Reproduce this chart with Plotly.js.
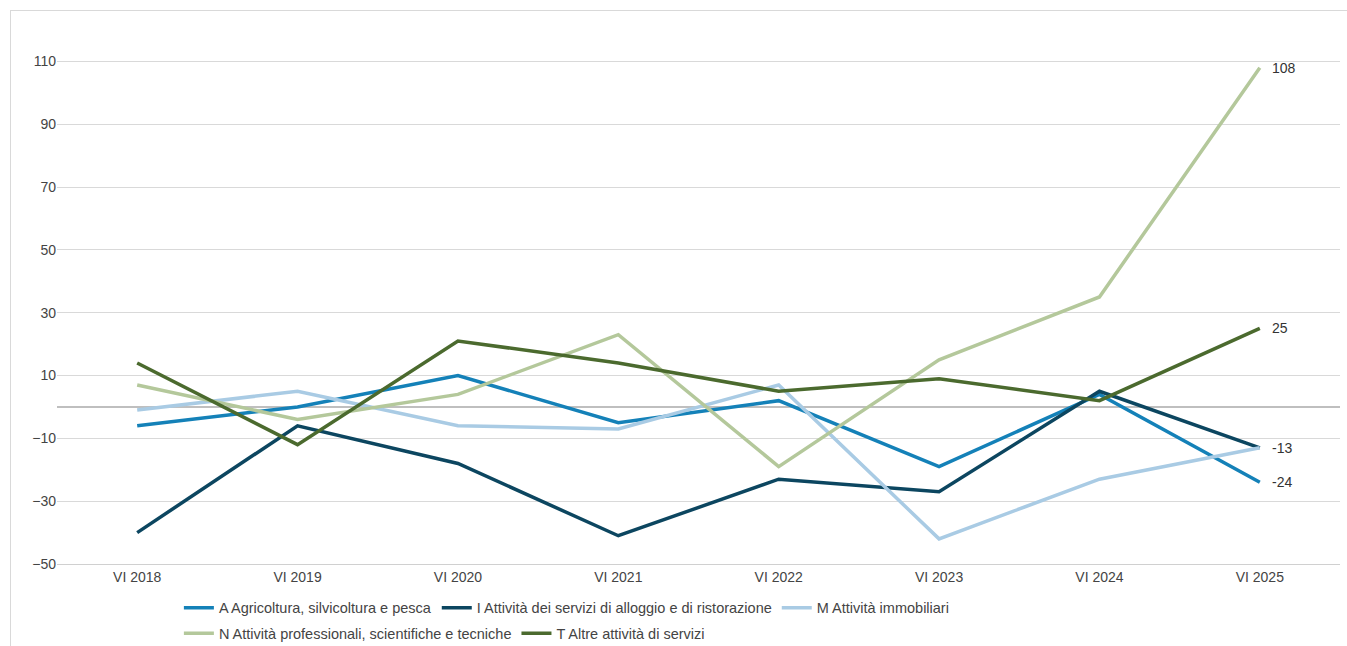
<!DOCTYPE html>
<html><head><script src="https://cdn.plot.ly/plotly-3.0.1.min.js"></script>
<style>body{margin:0}#c{width:1347px;height:646px;}#b{position:absolute;left:10px;top:10px;width:1345px;height:650px;border:1px solid #d9d9d9;pointer-events:none}</style></head>
<body><div id="c"></div><div id="b"></div><script>
const categories=["VI 2018","VI 2019","VI 2020","VI 2021","VI 2022","VI 2023","VI 2024","VI 2025"];
const seriesA=[-6,0,10,-5,2,-19,4,-24];
const seriesI=[-40,-6,-18,-41,-23,-27,5,-13];
const seriesM=[-1,5,-6,-7,7,-42,-23,-13];
const seriesN=[7,-4,4,23,-19,15,35,108];
const seriesT=[14,-12,21,14,5,9,2,25];
const names=["A Agricoltura, silvicoltura e pesca","I Attività dei servizi di alloggio e di ristorazione","M Attività immobiliari","N Attività professionali, scientifiche e tecniche","T Altre attività di servizi"];
const colors=["#1481b8","#0c4660","#a9cbe4","#b4c89b","#4b6a2e"];
const legendOf=["legend","legend","legend","legend2","legend2"];
const all=[seriesA,seriesI,seriesM,seriesN,seriesT];
const traces=all.map((s,i)=>({x:categories,y:s,name:names[i],legend:legendOf[i],type:"scatter",mode:"lines",line:{color:colors[i],width:3.5}}));
const ann=[seriesN,seriesT,seriesM,seriesA].map(s=>({x:categories[7],y:s[7],text:String(s[7]),showarrow:false,xanchor:"left",xshift:10,font:{size:14,color:"#333"}}));
const leg={orientation:"h",xanchor:"left",yanchor:"top",font:{size:14.5,color:"#444"},itemwidth:30,tracegroupgap:0};
Plotly.newPlot("c",traces,{
 width:1347,height:646,margin:{l:57,r:7,t:30,b:82,autoexpand:false},
 paper_bgcolor:"#fff",plot_bgcolor:"#fff",
 font:{family:"Liberation Sans, Arial",size:14,color:"#444"},
 xaxis:{range:[-0.5,7.5],showgrid:false,showline:true,linecolor:"#d0d0d0",ticks:"",tickfont:{size:14}},
 yaxis:{range:[-50,120],tickvals:[-50,-30,-10,10,30,50,70,90,110],gridcolor:"#d9d9d9",zeroline:true,zerolinecolor:"#bfbfbf",zerolinewidth:1.5,tickfont:{size:14},showline:false,ticklen:0},
 legend:Object.assign({x:0.095,y:-0.052},leg),
 legend2:Object.assign({x:0.095,y:-0.1},leg),
 annotations:ann
},{displayModeBar:false});
</script></body></html>
